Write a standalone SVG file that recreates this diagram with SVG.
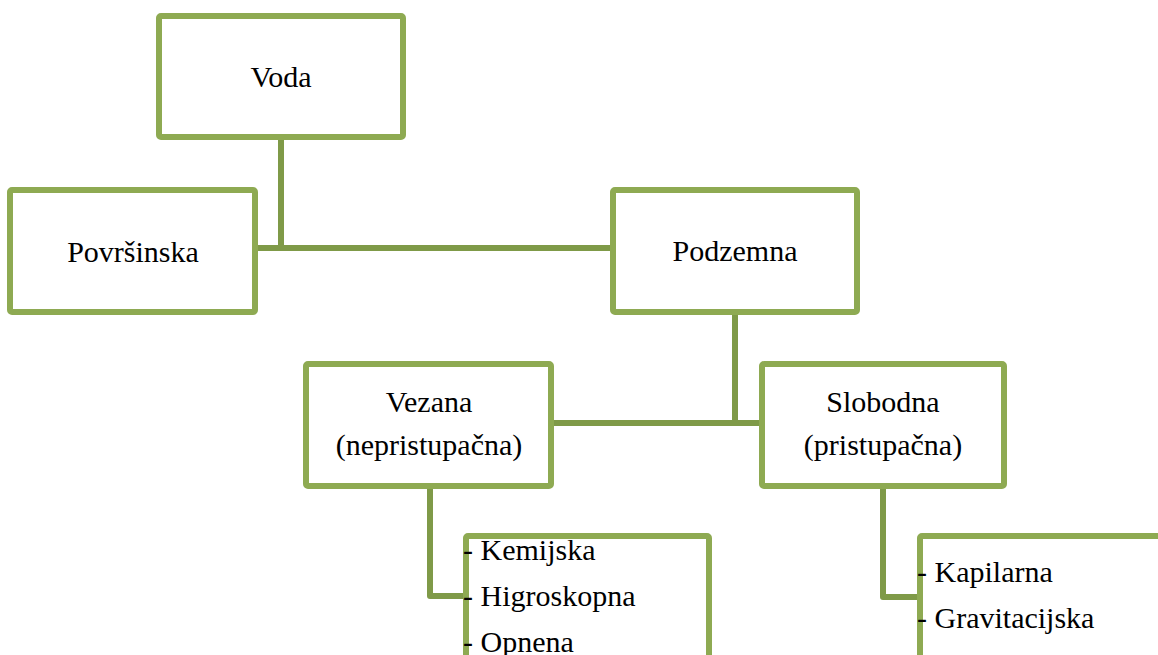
<svg xmlns="http://www.w3.org/2000/svg" width="1158" height="655" viewBox="0 0 1158 655">
<style>
.box{fill:#fff;stroke:#8eaa52;stroke-width:6}
.con{fill:none;stroke:#7f9a48;stroke-width:6;stroke-linejoin:round}
text{font-family:"Liberation Serif","Times New Roman",serif;font-size:30px;fill:#000}
.c{text-anchor:middle}
</style>
<rect width="1158" height="655" fill="#fff"/>
<g id="connectors">
<path class="con" d="M281 140V248M257 248H612"/>
<path class="con" d="M735 315V423M553 423H761"/>
<path class="con" d="M430 489V596H466"/>
<path class="con" d="M883 489V597H920"/>
</g>
<g id="voda"><rect class="box" x="159" y="16" width="244" height="121" rx="2"/><text class="c" x="281" y="87">Voda</text></g>
<g id="povrsinska"><rect class="box" x="10" y="190" width="245" height="122" rx="2"/><text class="c" x="133" y="262">Površinska</text></g>
<g id="podzemna"><rect class="box" x="613" y="190" width="244" height="122" rx="2"/><text class="c" x="735" y="261">Podzemna</text></g>
<g id="vezana"><rect class="box" x="306" y="364" width="245" height="122" rx="2"/><text class="c" x="429" y="412">Vezana</text><text class="c" x="429" y="455">(nepristupačna)</text></g>
<g id="slobodna"><rect class="box" x="762" y="364" width="242" height="122" rx="2"/><text class="c" x="883" y="412">Slobodna</text><text class="c" x="883" y="455">(pristupačna)</text></g>
<g id="list1"><rect class="box" x="466" y="536" width="243" height="140" rx="2"/><text x="463" y="560">- Kemijska</text><text x="463" y="606">- Higroskopna</text><text x="463" y="652">- Opnena</text></g>
<g id="list2"><rect class="box" x="920" y="536" width="260" height="140" rx="2"/><text x="917" y="582">- Kapilarna</text><text x="917" y="628">- Gravitacijska</text></g>
</svg>
